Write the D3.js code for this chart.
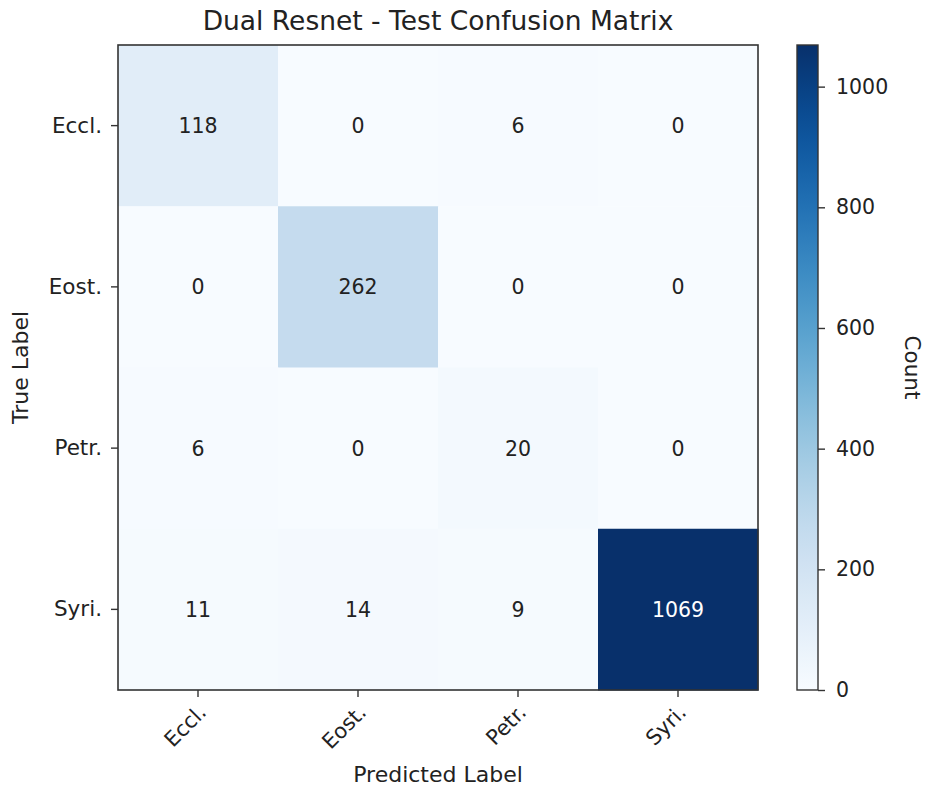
<!DOCTYPE html>
<html>
<head>
<meta charset="utf-8">
<script src="https://cdn.jsdelivr.net/npm/d3@7"></script>
<style>
  html, body { margin: 0; padding: 0; background: #fff; }
  svg { display: block; font-family: "DejaVu Sans", sans-serif; }
</style>
</head>
<body>
<svg id="chart" width="925" height="789"></svg>
<script>
// ---- data ----
const trueLabels = ["Eccl.", "Eost.", "Petr.", "Syri."];
const predLabels = ["Eccl.", "Eost.", "Petr.", "Syri."];
const row_Eccl = [118, 0, 6, 0];
const row_Eost = [0, 262, 0, 0];
const row_Petr = [6, 0, 20, 0];
const row_Syri = [11, 14, 9, 1069];
const colorbarTicks = [0, 200, 400, 600, 800, 1000];
const titleText = "Dual Resnet - Test Confusion Matrix";
const xAxisTitle = "Predicted Label";
const yAxisTitle = "True Label";
const colorbarTitle = "Count";

const matrix = [row_Eccl, row_Eost, row_Petr, row_Syri];
const cells = [];
matrix.forEach((row, i) => row.forEach((v, j) => cells.push({ r: trueLabels[i], c: predLabels[j], v })));
const vmax = d3.max(cells, d => d.v);

// ---- layout ----
const plot = { left: 118, right: 758, top: 45, bottom: 690 };
const cbar = { left: 797, right: 818, top: 45, bottom: 690 };
const svg = d3.select("#chart");
const textColor = "#222";

const x = d3.scaleBand().domain(predLabels).range([plot.left, plot.right]).padding(0);
const y = d3.scaleBand().domain(trueLabels).range([plot.top, plot.bottom]).padding(0);
const color = d3.scaleSequential(d3.interpolateBlues).domain([0, vmax]);

// cells
svg.append("g").selectAll("rect").data(cells).join("rect")
  .attr("x", d => x(d.c)).attr("y", d => y(d.r))
  .attr("width", x.bandwidth() + 0.5).attr("height", y.bandwidth() + 0.5)
  .attr("fill", d => color(d.v));

// cell texts
svg.append("g").selectAll("text").data(cells).join("text")
  .attr("x", d => x(d.c) + x.bandwidth() / 2)
  .attr("y", d => y(d.r) + y.bandwidth() / 2)
  .attr("dy", "0.36em")
  .attr("text-anchor", "middle")
  .attr("font-size", 20.5)
  .attr("fill", d => d.v > vmax / 2 ? "#fff" : textColor)
  .text(d => d.v);

// frame
svg.append("rect")
  .attr("x", plot.left).attr("y", plot.top)
  .attr("width", plot.right - plot.left).attr("height", plot.bottom - plot.top)
  .attr("fill", "none").attr("stroke", "#333").attr("stroke-width", 1.6);

// x axis
const xAxis = svg.append("g").attr("transform", `translate(0,${plot.bottom})`)
  .call(d3.axisBottom(x).tickSize(7).tickSizeOuter(0));
xAxis.select(".domain").remove();
xAxis.selectAll(".tick line").attr("stroke", "#333").attr("stroke-width", 1.4);
xAxis.selectAll(".tick text")
  .attr("font-size", 21).attr("fill", textColor).attr("font-family", "DejaVu Sans")
  .attr("text-anchor", "end")
  .attr("x", 0).attr("y", 0).attr("dy", "0.78em")
  .attr("transform", "translate(-2,12) rotate(-45)");

// y axis
const yAxis = svg.append("g").attr("transform", `translate(${plot.left},0)`)
  .call(d3.axisLeft(y).tickSize(7).tickSizeOuter(0).tickPadding(9));
yAxis.select(".domain").remove();
yAxis.selectAll(".tick line").attr("stroke", "#333").attr("stroke-width", 1.4);
yAxis.selectAll(".tick text")
  .attr("font-size", 21.5).attr("fill", textColor).attr("font-family", "DejaVu Sans");

// title
svg.append("text")
  .attr("x", (plot.left + plot.right) / 2).attr("y", 30)
  .attr("text-anchor", "middle").attr("font-size", 26.5).attr("fill", textColor)
  .text(titleText);

// axis titles
svg.append("text")
  .attr("x", (plot.left + plot.right) / 2).attr("y", 782)
  .attr("text-anchor", "middle").attr("font-size", 22).attr("fill", textColor)
  .text(xAxisTitle);
svg.append("text")
  .attr("transform", `translate(28,${(plot.top + plot.bottom) / 2}) rotate(-90)`)
  .attr("text-anchor", "middle").attr("font-size", 22).attr("fill", textColor)
  .text(yAxisTitle);

// colorbar
const cScale = d3.scaleLinear().domain([0, vmax]).range([cbar.bottom, cbar.top]);
const defs = svg.append("defs");
const grad = defs.append("linearGradient").attr("id", "cbgrad")
  .attr("x1", 0).attr("y1", 1).attr("x2", 0).attr("y2", 0);
d3.range(0, 1.0001, 0.05).forEach(t => {
  grad.append("stop").attr("offset", t).attr("stop-color", d3.interpolateBlues(t));
});
svg.append("rect")
  .attr("x", cbar.left).attr("y", cScale(vmax))
  .attr("width", cbar.right - cbar.left).attr("height", cScale(0) - cScale(vmax))
  .attr("fill", "url(#cbgrad)").attr("stroke", "#333").attr("stroke-width", 1.4);

const cAxis = svg.append("g").attr("transform", `translate(${cbar.right},0)`)
  .call(d3.axisRight(cScale).tickValues(colorbarTicks).tickSize(7).tickPadding(11).tickFormat(d3.format("d")));
cAxis.select(".domain").remove();
cAxis.selectAll(".tick line").attr("stroke", "#333").attr("stroke-width", 1.4);
cAxis.selectAll(".tick text")
  .attr("font-size", 20.5).attr("fill", textColor).attr("font-family", "DejaVu Sans");

svg.append("text")
  .attr("transform", `translate(905,${(cbar.top + cbar.bottom) / 2}) rotate(90)`)
  .attr("text-anchor", "middle").attr("font-size", 21.5).attr("fill", textColor)
  .text(colorbarTitle);
</script>
</body>
</html>
